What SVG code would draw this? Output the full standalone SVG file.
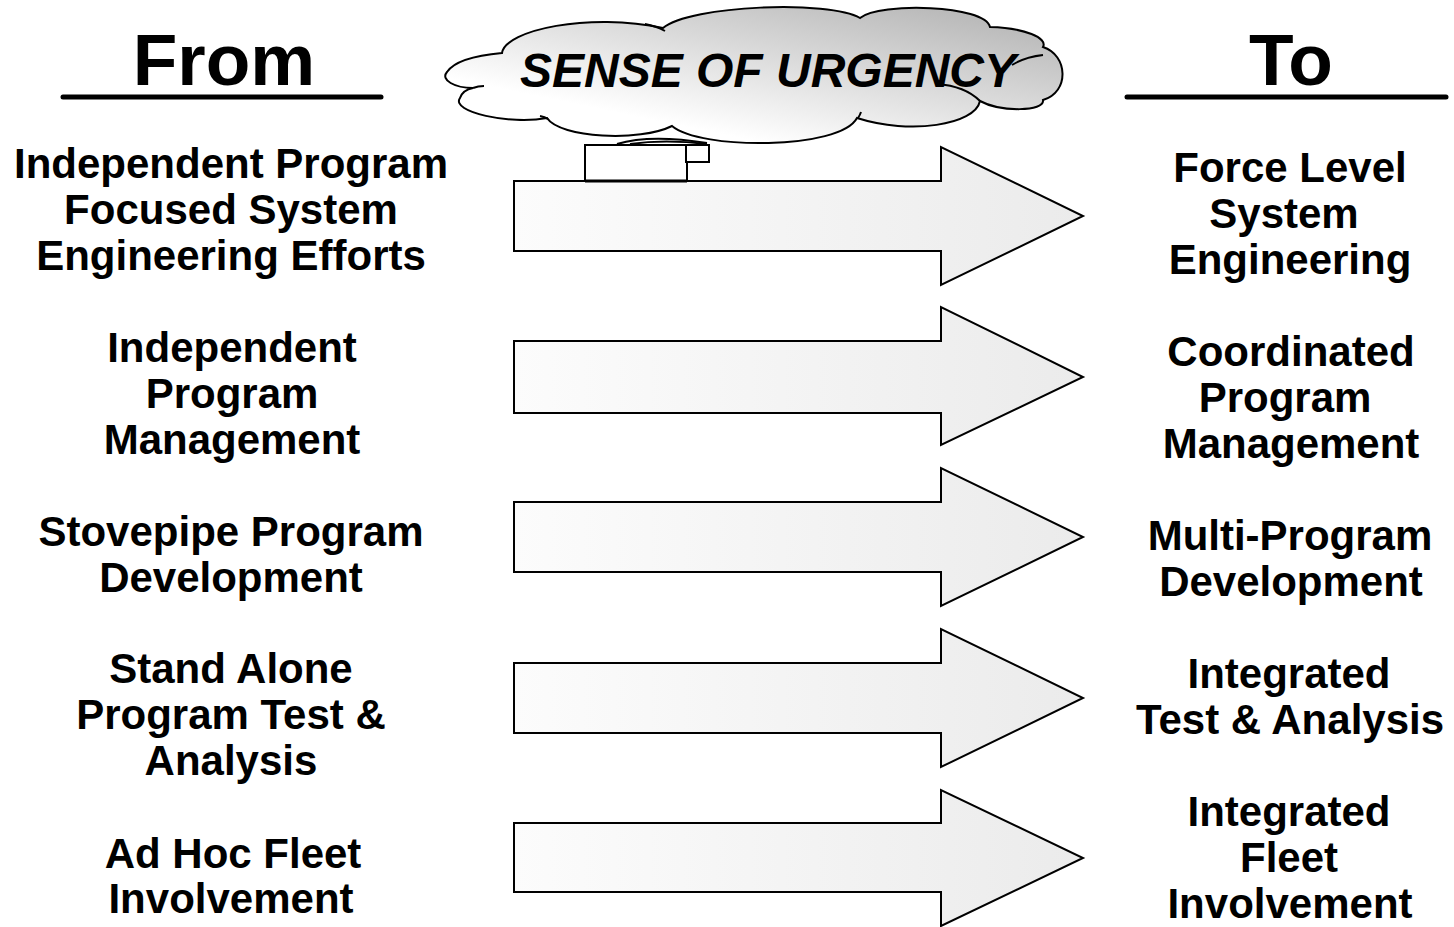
<svg xmlns="http://www.w3.org/2000/svg" width="1454" height="927" viewBox="0 0 1454 927">
<style>
.t{font-family:"Liberation Sans",Arial,Helvetica,sans-serif;font-weight:bold;fill:#000;text-anchor:middle}
.lbl{font-size:42px}
.hdr{font-size:73px}
.arrow{fill:url(#ag);stroke:#000;stroke-width:2;stroke-linejoin:miter}
.ul{stroke:#000;stroke-width:5;stroke-linecap:round}
.cl{fill:none;stroke:#000;stroke-width:2}
</style>
<defs>
<linearGradient id="ag" x1="0" y1="0" x2="1" y2="0">
<stop offset="0" stop-color="#fcfcfc"/>
<stop offset="1" stop-color="#ebebeb"/>
</linearGradient>
<linearGradient id="cg" x1="0.25" y1="0.9" x2="1" y2="0.1">
<stop offset="0.1" stop-color="#ffffff"/>
<stop offset="1" stop-color="#b4b4b4"/>
</linearGradient>
</defs>
<rect width="1454" height="927" fill="#fff"/>

<g id="header-from">
<text class="t hdr" x="224" y="85">From</text>
<line class="ul" x1="63" y1="97" x2="381" y2="97"/>
</g>
<g id="header-to">
<text class="t hdr" x="1291" y="85">To</text>
<line class="ul" x1="1127" y1="97" x2="1446" y2="97"/>
</g>

<g id="cloud">
<path d="M447,72 C455,60 480,55 502,53 C505,30 590,12 663,28 C690,5 830,0 860,18 C880,2 985,5 990,27 C1025,28 1048,38 1043,47 C1068,55 1070,92 1043,100 C1045,112 1000,112 980,101 C975,125 910,135 857,118 C840,150 700,150 672,126 C640,142 560,138 547,118 C510,125 450,112 460,98 C462,92 468,89 473,88 C455,88 440,80 447,72 Z" fill="url(#cg)" stroke="#000" stroke-width="2"/>
<path class="cl" d="M645,24 Q656,26 665,31"/>
<path class="cl" d="M1012,65 Q1025,57 1043,55"/>
<path class="cl" d="M937,84 Q965,86 980,101"/>
<path class="cl" d="M540,116 Q545,117 548,119"/>
<path class="cl" d="M473,88 Q478,86 484,86"/>
<path class="cl" d="M858,118 Q860,115 861,112"/>
<text class="t" x="768" y="87" font-size="48" font-style="italic">SENSE OF URGENCY</text>
</g>

<g id="connectors">
<path class="arrow" d="M514,181 H941 V147 L1083,216 L941,285 V251 H514 Z"/>
<path class="arrow" d="M514,341 H941 V307 L1083,377 L941,445 V413 H514 Z"/>
<path class="arrow" d="M514,502 H941 V468 L1083,537 L941,606 V572 H514 Z"/>
<path class="arrow" d="M514,663 H941 V629 L1083,698 L941,767 V733 H514 Z"/>
<path class="arrow" d="M514,823 H941 V790 L1083,858 L941,926 V892 H514 Z"/>
</g>

<g id="bubble">
<path class="cl" d="M617,144 Q650,134 707,143"/>
<path class="cl" d="M630,144 Q665,139 707,144" stroke-width="1.5"/>
<rect x="585" y="145" width="102" height="36" fill="#fff" stroke="#000" stroke-width="2"/>
<rect x="686" y="145" width="23" height="17" fill="#fff" stroke="#000" stroke-width="2"/>
<line x1="585" y1="181" x2="687" y2="181" stroke="#000" stroke-width="3"/>
</g>

<g id="from-1"><text class="t lbl" x="231" y="178">Independent Program</text><text class="t lbl" x="231" y="224">Focused System</text><text class="t lbl" x="231" y="270">Engineering Efforts</text></g>
<g id="from-2"><text class="t lbl" x="232" y="362">Independent</text><text class="t lbl" x="232" y="408">Program</text><text class="t lbl" x="232" y="454">Management</text></g>
<g id="from-3"><text class="t lbl" x="231" y="546">Stovepipe Program</text><text class="t lbl" x="231" y="592">Development</text></g>
<g id="from-4"><text class="t lbl" x="231" y="683">Stand Alone</text><text class="t lbl" x="231" y="729">Program Test &amp;</text><text class="t lbl" x="231" y="775">Analysis</text></g>
<g id="from-5"><text class="t lbl" x="233" y="868">Ad Hoc Fleet</text><text class="t lbl" x="231" y="913">Involvement</text></g>

<g id="to-1"><text class="t lbl" x="1290" y="182">Force Level</text><text class="t lbl" x="1284" y="228">System</text><text class="t lbl" x="1290" y="274">Engineering</text></g>
<g id="to-2"><text class="t lbl" x="1291" y="366">Coordinated</text><text class="t lbl" x="1285" y="412">Program</text><text class="t lbl" x="1291" y="458">Management</text></g>
<g id="to-3"><text class="t lbl" x="1290" y="550">Multi-Program</text><text class="t lbl" x="1291" y="596">Development</text></g>
<g id="to-4"><text class="t lbl" x="1289" y="688">Integrated</text><text class="t lbl" x="1290" y="734">Test &amp; Analysis</text></g>
<g id="to-5"><text class="t lbl" x="1289" y="826">Integrated</text><text class="t lbl" x="1289" y="872">Fleet</text><text class="t lbl" x="1290" y="918">Involvement</text></g>
</svg>
